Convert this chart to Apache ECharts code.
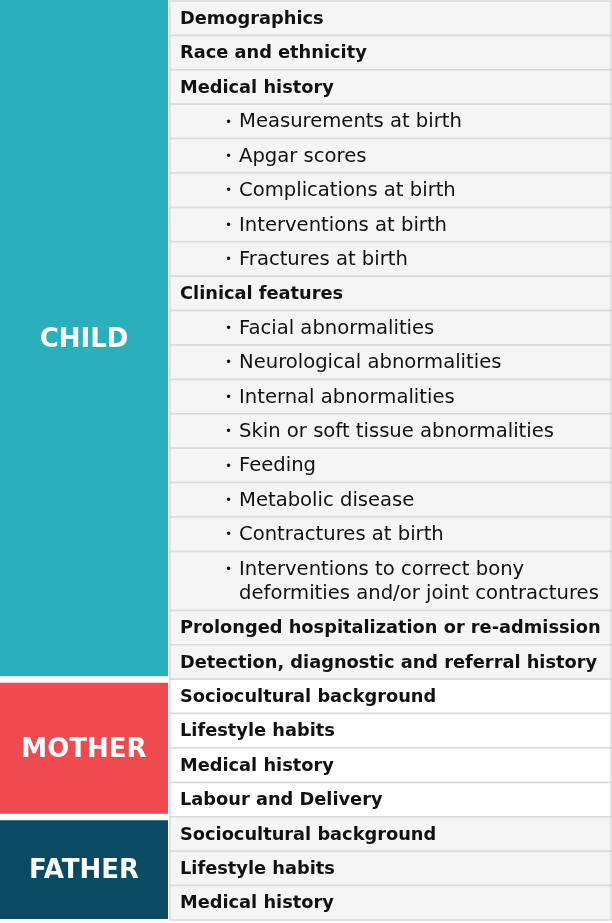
<!DOCTYPE html>
<html><head><meta charset="utf-8">
<script src="https://cdn.jsdelivr.net/npm/echarts@6/dist/echarts.min.js"></script>
<style>html,body{margin:0;padding:0;background:#fff}#c{width:612px;height:923px}</style>
</head><body><div id="c"></div>
<script>
const groupNames = ['CHILD', 'MOTHER', 'FATHER'];
const childLabels = [
  'Demographics', 'Race and ethnicity', 'Medical history',
  'Measurements at birth', 'Apgar scores', 'Complications at birth', 'Interventions at birth', 'Fractures at birth',
  'Clinical features',
  'Facial abnormalities', 'Neurological abnormalities', 'Internal abnormalities', 'Skin or soft tissue abnormalities',
  'Feeding', 'Metabolic disease', 'Contractures at birth',
  'Interventions to correct bony\ndeformities and/or joint contractures',
  'Prolonged hospitalization or re-admission', 'Detection, diagnostic and referral history'
];
const childLevels = [0, 0, 0, 1, 1, 1, 1, 1, 0, 1, 1, 1, 1, 1, 1, 1, 1, 0, 0];
const motherLabels = ['Sociocultural background', 'Lifestyle habits', 'Medical history', 'Labour and Delivery'];
const motherLevels = [0, 0, 0, 0];
const fatherLabels = ['Sociocultural background', 'Lifestyle habits', 'Medical history'];
const fatherLevels = [0, 0, 0];

const groups = [
  { name: groupNames[0], labels: childLabels, levels: childLevels },
  { name: groupNames[1], labels: motherLabels, levels: motherLevels },
  { name: groupNames[2], labels: fatherLabels, levels: fatherLevels }
];
const groupColors = ['#2aafbc', '#ee4a4f', '#0b4a63'];
const rowFills = ['#f5f5f5', '#ffffff', '#f5f5f5'];
const FONT = '"DejaVu Sans", sans-serif';

const rows = [], blocks = [];
let cur = 0;
groups.forEach((g, gi) => {
  const start = cur;
  g.labels.forEach((lab, i) => {
    const n = lab.split('\n').length;
    const h = 1 + (n - 1) * 0.715;
    rows.push({ value: [cur, cur + h], gi: gi, level: g.levels[i], label: lab });
    cur += h;
  });
  blocks.push({ value: [start, cur], gi: gi, name: g.name, first: gi === 0, last: gi === groups.length - 1 });
});
const total = cur;

const chart = echarts.init(document.getElementById('c'), null, { renderer: 'canvas' });
chart.setOption({
  animation: false,
  grid: { left: 0, right: 0, top: 1, bottom: 3 },
  xAxis: { type: 'value', min: 0, max: 612, show: false },
  yAxis: { type: 'value', min: 0, max: total, inverse: true, show: false },
  series: [
    {
      type: 'custom',
      coordinateSystem: 'cartesian2d',
      data: rows,
      renderItem: function (params, api) {
        const r = rows[params.dataIndex];
        const p0 = api.coord([170, api.value(0)]);
        const p1 = api.coord([611, api.value(1)]);
        const cy = (p0[1] + p1[1]) / 2 + 1;
        const ch = [{
          type: 'rect',
          shape: { x: p0[0], y: p0[1], width: p1[0] - p0[0], height: p1[1] - p0[1] },
          style: { fill: rowFills[r.gi], stroke: '#dadada', lineWidth: 1.5 }
        }];
        if (r.level === 0) {
          ch.push({ type: 'text', x: api.coord([180, 0])[0], y: cy,
            style: { text: r.label, fill: '#111', fontSize: 17.8, fontWeight: 'bold', fontFamily: FONT,
              verticalAlign: 'middle', align: 'left' } });
        } else {
          const lines = r.label.split('\n').length;
          ch.push({ type: 'text', x: api.coord([225, 0])[0], y: cy - (lines - 1) * 12,
            style: { text: '•', fill: '#111', fontSize: 12, fontFamily: FONT, verticalAlign: 'middle', align: 'left' } });
          ch.push({ type: 'text', x: api.coord([239, 0])[0], y: cy,
            style: { text: r.label, fill: '#111', fontSize: 19.6, fontFamily: FONT, lineHeight: 24,
              verticalAlign: 'middle', align: 'left' } });
        }
        return { type: 'group', children: ch };
      }
    },
    {
      type: 'custom',
      coordinateSystem: 'cartesian2d',
      data: blocks,
      renderItem: function (params, api) {
        const b = blocks[params.dataIndex];
        const p0 = api.coord([0, api.value(0)]);
        const p1 = api.coord([168, api.value(1)]);
        const y0 = b.first ? 0 : p0[1] + 3.5;
        const y1 = b.last ? p1[1] - 1 : p1[1] - 3;
        return {
          type: 'group',
          children: [
            { type: 'rect', shape: { x: p0[0], y: y0, width: p1[0] - p0[0], height: y1 - y0 },
              style: { fill: groupColors[b.gi] } },
            { type: 'text', x: (p0[0] + p1[0]) / 2, y: (y0 + y1) / 2 + 2,
              style: { text: b.name, fill: '#fff', fontSize: 26, fontWeight: 'bold', fontFamily: FONT,
                align: 'center', verticalAlign: 'middle' } }
          ]
        };
      }
    }
  ]
});
</script></body></html>
